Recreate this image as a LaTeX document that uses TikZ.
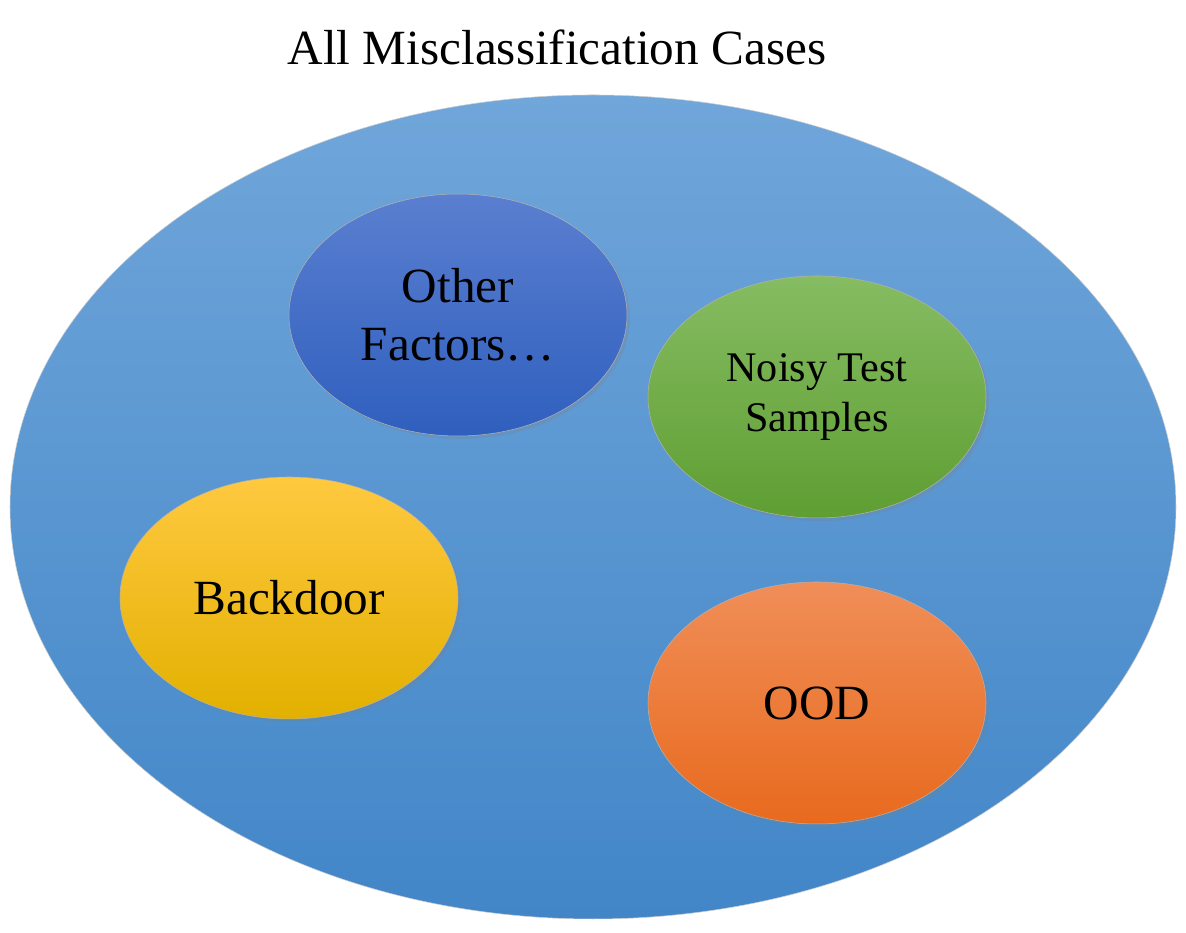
\documentclass[tikz,border=0pt]{standalone}
\usepackage{fontspec}
\setmainfont{Liberation Serif}
\usetikzlibrary{shapes.geometric,shadows}

\definecolor{outerTop}{HTML}{70A6DA}
\definecolor{outerBot}{HTML}{4286C8}
\definecolor{otherTop}{HTML}{5A7FD0}
\definecolor{otherBot}{HTML}{2F5FBE}
\definecolor{noisyTop}{HTML}{86BC62}
\definecolor{noisyBot}{HTML}{5E9E32}
\definecolor{backTop}{HTML}{FFC940}
\definecolor{backMid}{HTML}{FFC800}
\definecolor{backBot}{HTML}{E2B000}
\definecolor{oodTop}{HTML}{F08E58}
\definecolor{oodBot}{HTML}{E86A1E}

\tikzset{
  blob/.style={ellipse,inner sep=0pt,minimum width=6.76cm,minimum height=4.84cm,
    draw=white!70!black,line width=0.3pt,drop shadow={opacity=0.25,shadow xshift=0.6mm,shadow yshift=-0.6mm},
    align=center,font=\fontsize{28}{33}\selectfont},
}

\begin{document}
\begin{tikzpicture}
\useasboundingbox (0,0) rectangle (23.72,18.66);

% title
\node (title) at (11.14,17.72) {\fontsize{28}{33}\selectfont All Misclassification Cases};

% all cases
\node[ellipse,inner sep=0pt,minimum width=23.32cm,minimum height=16.48cm,
  top color=outerTop,bottom color=outerBot,draw=white!80!black,line width=0.3pt]
  (all) at (11.86,8.52) {};

% other factors
\node[blob,top color=otherTop,bottom color=otherBot] (other) at (9.16,12.36) {Other\\Factors\ldots};

% noisy test samples
\node[blob,top color=noisyTop,bottom color=noisyBot,font=\fontsize{24}{28.5}\selectfont]
  (noisy) at (16.34,10.72) {Noisy Test\\Samples};

% backdoor
\node[blob,top color=backTop,middle color=backMid,bottom color=backBot] (backdoor) at (5.78,6.7) {Backdoor};

% ood
\node[blob,top color=oodTop,bottom color=oodBot] (ood) at (16.34,4.6) {OOD};

\end{tikzpicture}
\end{document}
